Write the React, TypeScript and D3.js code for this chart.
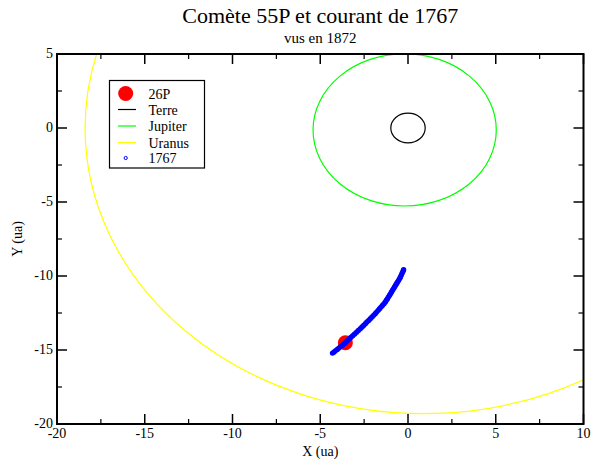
import React from "react";
import * as d3 from "d3";

// ---- data ----
const xTicksMajor = [-20, -15, -10, -5, 0, 5, 10];
const yTicksMajor = [5, 0, -5, -10, -15, -20];
const xTicksMinor = [-17.5, -12.5, -7.5, -2.5, 2.5, 7.5];
const yTicksMinor = [2.5, -2.5, -7.5, -12.5, -17.5];

// orbits: name, centre x, centre y, semi-axis x, semi-axis y (ua)
const orbitNames = ["Terre", "Jupiter", "Uranus"];
const orbitCx = [0, -0.19, 0.9];
const orbitCy = [0, -0.13, 0];
const orbitRx = [0.98, 5.22, 19.3];
const orbitRy = [1.0, 5.14, 19.3];
const orbitColors = ["#000000", "#00ff00", "#ffff00"];

// comet 26P position
const cometX = [-3.57];
const cometY = [-14.51];

// 1767 stream particles
const streamX = [-4.3, -4.21, -4.12, -4.03, -3.94, -3.85, -3.75, -3.66, -3.57, -3.47, -3.36, -3.26, -3.15, -3.04, -2.93, -2.83, -2.72, -2.62, -2.53, -2.43, -2.34, -2.24, -2.15, -2.05, -1.96, -1.87, -1.79, -1.7, -1.62, -1.54, -1.46, -1.37, -1.29, -1.23, -1.17, -1.11, -1.05, -0.99, -0.94, -0.88, -0.82, -0.77, -0.72, -0.67, -0.62, -0.57, -0.52, -0.47, -0.43, -0.38, -0.34, -0.29, -0.25];
const streamY = [-15.21, -15.13, -15.04, -14.96, -14.87, -14.78, -14.69, -14.6, -14.51, -14.39, -14.27, -14.15, -14.03, -13.92, -13.8, -13.68, -13.56, -13.45, -13.34, -13.22, -13.11, -13.0, -12.89, -12.77, -12.66, -12.55, -12.44, -12.32, -12.21, -12.1, -11.99, -11.87, -11.76, -11.64, -11.53, -11.41, -11.3, -11.19, -11.08, -10.96, -10.85, -10.75, -10.65, -10.56, -10.46, -10.36, -10.26, -10.16, -10.07, -9.94, -9.82, -9.69, -9.57];

const legendLabels = ["26P", "Terre", "Jupiter", "Uranus", "1767"];

const W = 591;
const H = 464;
const left = 57, right = 583.5, top = 54, bottom = 424;

export default function App() {
  const x = d3.scaleLinear().domain([-20, 10]).range([left, right]);
  const y = d3.scaleLinear().domain([-20, 5]).range([bottom, top]);
  const font = "'Liberation Serif', 'DejaVu Serif', serif";
  const legX = 109.5, legY = 80.5, legW = 95, legH = 87.5;
  const rowY = [93.5, 109.5, 126, 142.5, 158];

  return (
    <svg width={W} height={H} style={{ position: "absolute", left: 0, top: 0, background: "#fff" }} fontFamily={font}>
      <defs>
        <clipPath id="plotclip">
          <rect x={left} y={top} width={right - left} height={bottom - top} />
        </clipPath>
      </defs>
      <rect width={W} height={H} fill="#fff" />
      <text x={(left + right) / 2} y={23} textAnchor="middle" fontSize={22}>Comète 55P et courant de 1767</text>
      <text x={(left + right) / 2} y={43} textAnchor="middle" fontSize={15}>vus en 1872</text>

      <g clipPath="url(#plotclip)">
        {orbitNames.map((n, i) => (
          <ellipse key={n}
            cx={x(orbitCx[i])} cy={y(orbitCy[i])}
            rx={x(orbitRx[i]) - x(0)} ry={y(0) - y(orbitRy[i])}
            fill="none" stroke={orbitColors[i]} strokeWidth={1.2} />
        ))}
        {cometX.map((cx, i) => (
          <circle key={"c" + i} cx={x(cx)} cy={y(cometY[i])} r={7.5} fill="#ff0000" />
        ))}
        {streamX.map((sx, i) => (
          <circle key={"s" + i} cx={x(sx)} cy={y(streamY[i])} r={2.7} fill="#0000ff" />
        ))}
      </g>

      {/* frame */}
      <rect x={left} y={top} width={right - left} height={bottom - top} fill="none" stroke="#000" strokeWidth={2} />

      {/* x ticks */}
      {xTicksMajor.map(t => (
        <g key={"xt" + t}>
          <line x1={x(t)} x2={x(t)} y1={bottom} y2={bottom - 10} stroke="#000" strokeWidth={1.5} />
          <line x1={x(t)} x2={x(t)} y1={top} y2={top + 10} stroke="#000" strokeWidth={1.5} />
          <text x={x(t)} y={437.5} textAnchor="middle" fontSize={14}>{t}</text>
        </g>
      ))}
      {xTicksMinor.map(t => (
        <g key={"xm" + t}>
          <line x1={x(t)} x2={x(t)} y1={bottom} y2={bottom - 5} stroke="#000" strokeWidth={1.2} />
          <line x1={x(t)} x2={x(t)} y1={top} y2={top + 5} stroke="#000" strokeWidth={1.2} />
        </g>
      ))}
      {yTicksMajor.map(t => (
        <g key={"yt" + t}>
          <line x1={left} x2={left + 10} y1={y(t)} y2={y(t)} stroke="#000" strokeWidth={1.5} />
          <line x1={right} x2={right - 10} y1={y(t)} y2={y(t)} stroke="#000" strokeWidth={1.5} />
          <text x={53} y={y(t) + 4} textAnchor="end" fontSize={14}>{t}</text>
        </g>
      ))}
      {yTicksMinor.map(t => (
        <g key={"ym" + t}>
          <line x1={left} x2={left + 5} y1={y(t)} y2={y(t)} stroke="#000" strokeWidth={1.2} />
          <line x1={right} x2={right - 5} y1={y(t)} y2={y(t)} stroke="#000" strokeWidth={1.2} />
        </g>
      ))}

      <text x={(left + right) / 2} y={456} textAnchor="middle" fontSize={14}>X (ua)</text>
      <text transform={`translate(22, ${(top + bottom) / 2}) rotate(-90)`} textAnchor="middle" fontSize={14}>Y (ua)</text>

      {/* legend */}
      <rect x={legX} y={legY} width={legW} height={legH} fill="#fff" stroke="#000" strokeWidth={1.2} />
      {legendLabels.map((l, i) => (
        <text key={l} x={148.5} y={rowY[i] + 5} fontSize={14}>{l}</text>
      ))}
      <circle cx={125.7} cy={rowY[0]} r={7.5} fill="#ff0000" />
      {orbitNames.map((n, i) => (
        <line key={"lg" + n} x1={118} x2={136} y1={rowY[i + 1]} y2={rowY[i + 1]} stroke={orbitColors[i]} strokeWidth={1.2} />
      ))}
      <circle cx={125.7} cy={rowY[4]} r={1.6} fill="none" stroke="#0000ff" strokeWidth={1} />
    </svg>
  );
}
